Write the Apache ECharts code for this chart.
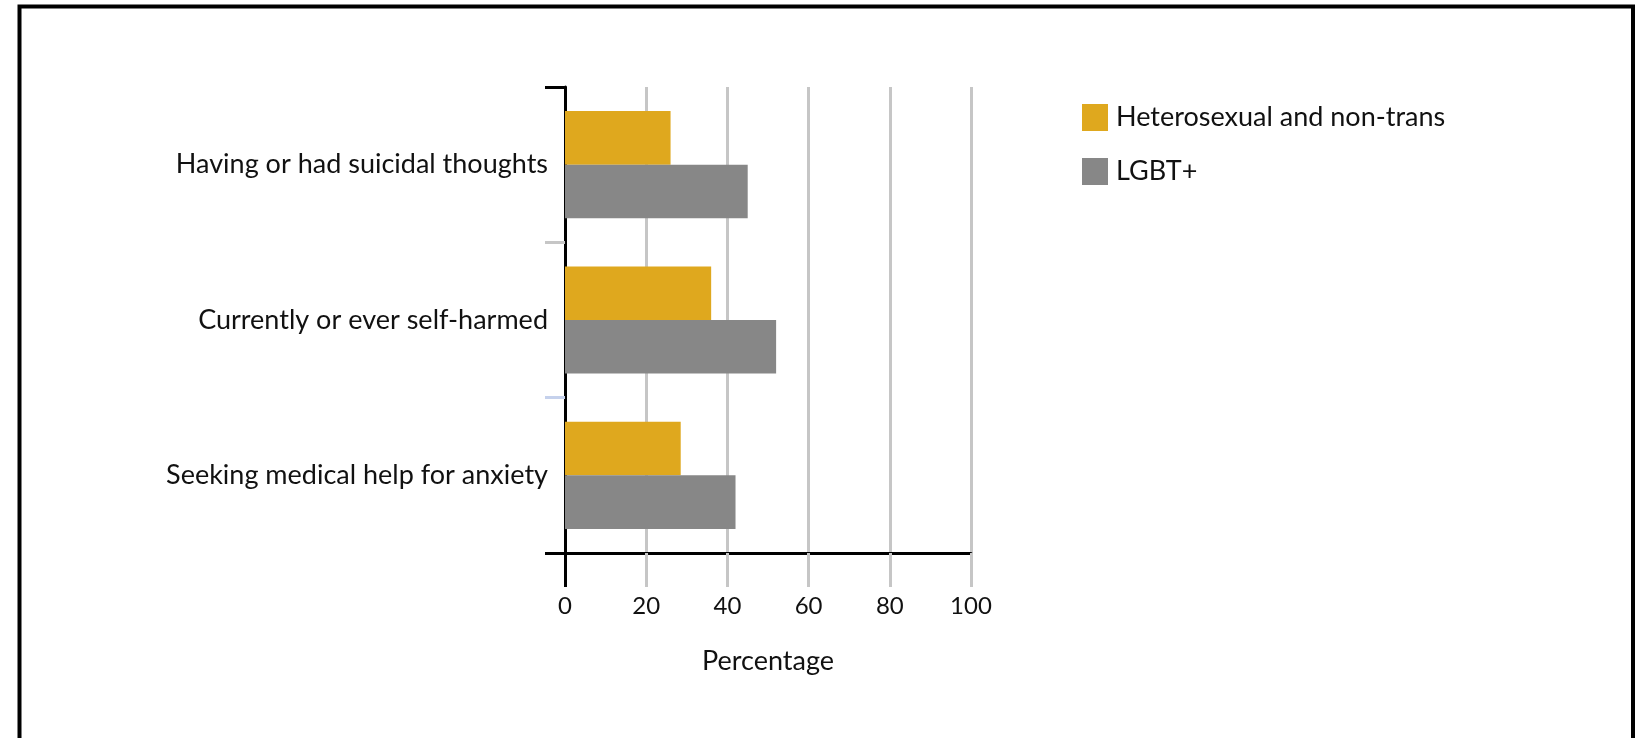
<!DOCTYPE html>
<html>
<head>
<meta charset="utf-8">
<style>
  html, body { margin: 0; padding: 0; background: #fff; }
  #chart { width: 1642px; height: 738px; }
</style>
<script src="https://cdn.jsdelivr.net/npm/echarts@6/dist/echarts.min.js"></script>
</head>
<body>
<div id="chart"></div>
<script>
const categories = ['Having or had suicidal thoughts', 'Currently or ever self-harmed', 'Seeking medical help for anxiety'];
const seriesNames = ['Heterosexual and non-trans', 'LGBT+'];
const heteroValues = [26, 36, 28.5];
const lgbtValues = [45, 52, 42];
const xTicks = [0, 20, 40, 60, 80, 100];

const FONT = 'Lato';
const chart = echarts.init(document.getElementById('chart'), null, { renderer: 'canvas' });

const option = {
  backgroundColor: '#ffffff',
  animation: false,
  graphic: [{
    type: 'rect',
    shape: { x: 19.5, y: 6.5, width: 1613.5, height: 800 },
    style: { fill: 'none', stroke: '#000', lineWidth: 4 },
    silent: true, z: 100
  }],
  legend: {
    orient: 'vertical',
    left: 1077, top: 99,
    itemWidth: 26, itemHeight: 27, itemGap: 27,
    icon: 'rect',
    data: seriesNames,
    textStyle: { fontFamily: FONT, fontSize: 27, color: '#111', padding: [0, 0, 0, 3] }
  },
  grid: { left: 565, right: 671, top: 87, bottom: 185, containLabel: false },
  xAxis: [{
    type: 'value', min: 0, max: 100, interval: 20,
    position: 'bottom',
    name: 'Percentage', nameLocation: 'middle', nameGap: 95,
    nameTextStyle: { fontFamily: FONT, fontSize: 27, color: '#111' },
    axisLine: { show: true, onZero: false, lineStyle: { color: '#000', width: 3 } },
    axisTick: { show: true, length: 34, lineStyle: { color: '#c6c6c6', width: 3 } },
    axisLabel: { margin: 41, fontFamily: FONT, fontSize: 24, color: '#111',
      formatter: v => xTicks.includes(v) ? String(v) : '' },
    splitLine: { show: true, lineStyle: { color: '#c6c6c6', width: 3 } }
  }, {
    type: 'value', min: 0, max: 100, position: 'bottom', gridIndex: 0, offset: 0,
    axisLine: { show: false, onZero: false },
    axisTick: { show: true, length: 34, customValues: [0], lineStyle: { color: '#000', width: 3 } },
    axisLabel: { show: false }, splitLine: { show: false }
  }],
  yAxis: [{
    type: 'category', data: categories, inverse: true,
    axisLine: { show: true, onZero: false, lineStyle: { color: '#000', width: 3 } },
    axisTick: { show: true, length: 20, lineStyle: { color: '#c6c6c6', width: 3 } },
    axisLabel: { margin: 17, fontFamily: FONT, fontSize: 27, color: '#111' },
    splitLine: { show: false }
  }, {
    type: 'value', min: 0, max: 3, inverse: true, position: 'left',
    axisLine: { show: false, onZero: false },
    axisTick: { show: true, length: 20, customValues: [0, 3], lineStyle: { color: '#000', width: 3 } },
    axisLabel: { show: false }, splitLine: { show: false }
  }, {
    type: 'value', min: 0, max: 3, inverse: true, position: 'left',
    axisLine: { show: false, onZero: false },
    axisTick: { show: true, length: 20, customValues: [2], lineStyle: { color: '#c5d1ec', width: 3 } },
    axisLabel: { show: false }, splitLine: { show: false }
  }],
  series: [{
    name: seriesNames[0], type: 'bar', data: heteroValues,
    itemStyle: { color: '#dfa81e' }, barGap: '0%', barCategoryGap: '31%'
  }, {
    name: seriesNames[1], type: 'bar', data: lgbtValues,
    itemStyle: { color: '#878787' }, barGap: '0%', barCategoryGap: '31%'
  }]
};
chart.setOption(option);
</script>
</body>
</html>
